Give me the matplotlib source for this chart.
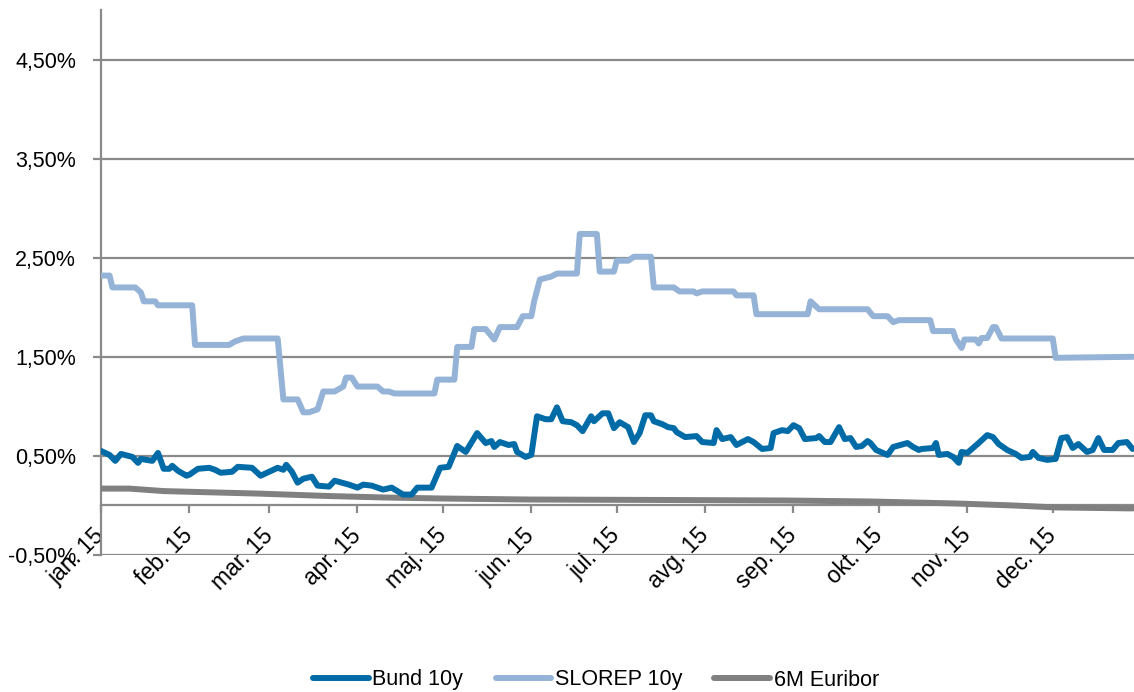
import matplotlib
matplotlib.use("Agg")
import matplotlib.pyplot as plt
import pandas as pd

plt.rcParams['font.family'] = ['Liberation Sans', 'DejaVu Sans']

# ---- data (day offset from 1 Jan 2015, value in %) ----
bund_day = [0, 3, 5, 7, 11, 13, 14, 18, 20, 22, 24, 25, 27, 30, 31, 34, 38, 40, 42, 46,
            48, 53, 56, 59, 62, 64, 65, 67, 69, 71, 74, 76, 80, 82, 87, 90, 92, 95, 99, 102,
            106, 109, 111, 116, 119, 122, 125, 128, 132, 135, 137, 138, 140, 143, 145, 146, 149, 151, 153, 156,
            158, 160, 162, 165, 167, 169, 172, 173, 176, 178, 180, 182, 185, 187, 189, 191, 193, 194, 197, 199,
            201, 202, 205, 209, 211, 215, 216, 218, 221, 223, 227, 229, 232, 235, 236, 239, 241, 243, 245, 247,
            251, 252, 254, 256, 259, 261, 263, 265, 267, 269, 270, 272, 276, 278, 283, 285, 287, 288, 292, 293,
            294, 297, 299, 301, 302, 304, 306, 308, 311, 313, 315, 318, 321, 323, 326, 327, 329, 332, 335, 337,
            339, 341, 343, 346, 348, 350, 352, 355, 357, 360, 362]
bund_val = [0.55, 0.51, 0.45, 0.52, 0.49, 0.43, 0.47, 0.45, 0.53, 0.37, 0.37, 0.40, 0.35, 0.30, 0.31, 0.37, 0.38, 0.36, 0.33, 0.34,
            0.39, 0.38, 0.30, 0.34, 0.38, 0.36, 0.41, 0.34, 0.23, 0.27, 0.29, 0.20, 0.19, 0.25, 0.21, 0.18, 0.21, 0.20, 0.16, 0.18,
            0.11, 0.11, 0.18, 0.18, 0.38, 0.39, 0.60, 0.54, 0.73, 0.63, 0.65, 0.59, 0.64, 0.61, 0.62, 0.54, 0.49, 0.51, 0.90, 0.87,
            0.87, 0.99, 0.85, 0.84, 0.81, 0.75, 0.90, 0.85, 0.93, 0.93, 0.78, 0.84, 0.79, 0.64, 0.73, 0.91, 0.91, 0.85, 0.82, 0.79,
            0.78, 0.74, 0.69, 0.70, 0.64, 0.63, 0.76, 0.67, 0.69, 0.61, 0.67, 0.64, 0.57, 0.58, 0.73, 0.76, 0.75, 0.81, 0.78, 0.67,
            0.68, 0.70, 0.64, 0.64, 0.79, 0.67, 0.68, 0.59, 0.60, 0.65, 0.63, 0.56, 0.51, 0.59, 0.63, 0.59, 0.56, 0.57, 0.58, 0.63,
            0.51, 0.52, 0.49, 0.43, 0.54, 0.53, 0.58, 0.63, 0.71, 0.69, 0.62, 0.56, 0.52, 0.48, 0.49, 0.54, 0.48, 0.46, 0.47, 0.68,
            0.69, 0.58, 0.62, 0.54, 0.56, 0.68, 0.56, 0.56, 0.63, 0.64, 0.57]

slorep_day = [0, 3, 4, 12, 14, 15, 19, 20, 32, 33, 45, 47, 50, 62, 64, 69, 71, 73, 76, 78,
              82, 85, 86, 88, 90, 97, 99, 101, 103, 117, 118, 124, 125, 130, 131, 135, 138, 140, 146, 148,
              151, 152, 154, 158, 160, 167, 168, 174, 175, 180, 181, 185, 187, 193, 194, 201, 203, 208, 209, 211,
              222, 223, 229, 230, 248, 249, 252, 269, 271, 276, 278, 280, 291, 292, 299, 300, 302, 303, 307, 308,
              309, 311, 313, 314, 316, 334, 335, 362]
slorep_val = [2.32, 2.32, 2.20, 2.20, 2.15, 2.06, 2.06, 2.02, 2.02, 1.62, 1.62, 1.655, 1.685, 1.685, 1.07, 1.07, 0.94, 0.94, 0.97, 1.15,
              1.15, 1.20, 1.29, 1.29, 1.20, 1.20, 1.15, 1.15, 1.13, 1.13, 1.27, 1.27, 1.60, 1.60, 1.78, 1.78, 1.675, 1.80, 1.80, 1.91,
              1.91, 2.06, 2.28, 2.31, 2.34, 2.34, 2.74, 2.74, 2.36, 2.36, 2.47, 2.47, 2.51, 2.51, 2.20, 2.20, 2.16, 2.16, 2.14, 2.16,
              2.16, 2.12, 2.12, 1.93, 1.93, 2.06, 1.98, 1.98, 1.91, 1.91, 1.85, 1.87, 1.87, 1.76, 1.76, 1.675, 1.59, 1.675, 1.675, 1.635,
              1.69, 1.69, 1.80, 1.80, 1.685, 1.685, 1.49, 1.50]

euribor_day = [0, 10, 22, 35, 55, 80, 100, 120, 150, 200, 240, 270, 300, 320, 335, 362]
euribor_val = [0.17, 0.17, 0.145, 0.135, 0.12, 0.095, 0.08, 0.07, 0.06, 0.055, 0.05, 0.04, 0.02, 0.00, -0.02, -0.03]

series_names = ['Bund 10y', 'SLOREP 10y', '6M Euribor']
month_labels = ['jan. 15', 'feb. 15', 'mar. 15', 'apr. 15', 'maj. 15', 'jun. 15',
                'jul. 15', 'avg. 15', 'sep. 15', 'okt. 15', 'nov. 15', 'dec. 15']
y_ticks = [-0.5, 0.5, 1.5, 2.5, 3.5, 4.5]
y_labels = ['-0,50%', '0,50%', '1,50%', '2,50%', '3,50%', '4,50%']

start = pd.Timestamp('2015-01-01')
def to_dates(days):
    return [start + pd.Timedelta(days=d) for d in days]

fig = plt.figure(figsize=(11.34, 6.92), dpi=100)
ax = fig.add_axes([101/1134, (692-555)/692, 1 - 101/1134, (555-10)/692])

grid_c = '#8a8a8a'
lw = 4.3
ax.plot(to_dates(bund_day), bund_val, color='#006BA6', lw=lw, label=series_names[0],
        solid_joinstyle='round', solid_capstyle='round', zorder=4)
ax.plot(to_dates(slorep_day), slorep_val, color='#95B3D7', lw=lw, label=series_names[1],
        solid_joinstyle='round', solid_capstyle='round', zorder=3)
ax.plot(to_dates(euribor_day), euribor_val, color='#808080', lw=lw, label=series_names[2],
        solid_joinstyle='round', solid_capstyle='round', zorder=3)

ax.set_ylim(-0.5, 5.0)
ax.set_xlim(start, start + pd.Timedelta(days=362.5))
ax.set_yticks(y_ticks)
ax.set_yticklabels(y_labels)
ax.yaxis.grid(True, color=grid_c, lw=1.6)
ax.set_axisbelow(True)

month_starts = pd.date_range('2015-01-01', periods=12, freq='MS')
ax.set_xticks(list(month_starts))
ax.set_xticklabels(month_labels)

for s in ['top', 'right']:
    ax.spines[s].set_visible(False)
ax.spines['bottom'].set_position(('data', 0))
ax.spines['bottom'].set_color(grid_c)
ax.spines['bottom'].set_linewidth(1.6)
ax.spines['left'].set_color(grid_c)
ax.spines['left'].set_linewidth(1.6)

ax.tick_params(axis='x', direction='out', length=6, width=1.6, color=grid_c,
               labelsize=16.5, pad=13, labelcolor='black', labelrotation=45)
ax.tick_params(axis='y', direction='out', length=6, width=1.6, color=grid_c,
               labelsize=15.5, pad=12, labelcolor='black')
for t in ax.get_xticklabels():
    t.set_ha('right')
    t.set_va('center')
    t.set_rotation_mode('anchor')

fig.legend(loc='center', bbox_to_anchor=(596/1134, 1 - 680/692), ncol=3, frameon=False,
           fontsize=15.5, handlelength=2.6, handletextpad=0.15, columnspacing=1.5)

fig.savefig('out.png', dpi=100)
